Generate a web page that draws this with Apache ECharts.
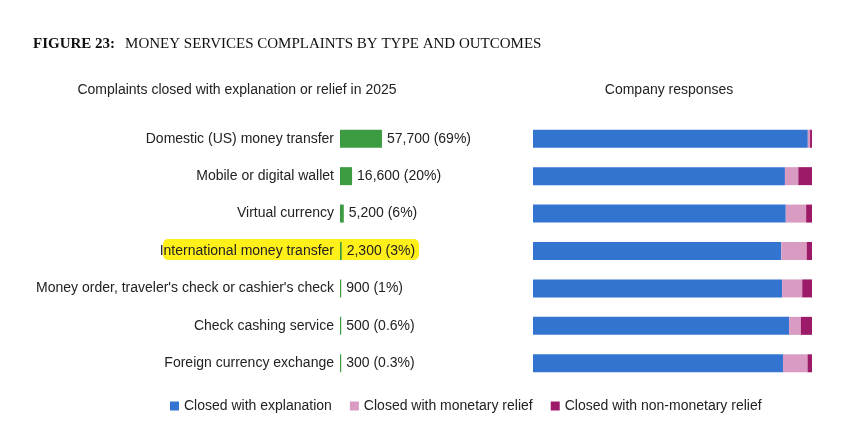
<!DOCTYPE html>
<html>
<head>
<meta charset="utf-8">
<script src="https://cdn.jsdelivr.net/npm/echarts@6/dist/echarts.min.js"></script>
<style>
  html, body { margin: 0; padding: 0; background: #fff; }
  #chart { width: 857px; height: 445px; }
</style>
</head>
<body>
<div id="chart"></div>
<script>
// complaint categories, top to bottom
const categories = [
  "Domestic (US) money transfer",
  "Mobile or digital wallet",
  "Virtual currency",
  "International money transfer",
  "Money order, traveler's check or cashier's check",
  "Check cashing service",
  "Foreign currency exchange"
];

// complaints closed with explanation or relief in 2025
const complaints = [57700, 16600, 5200, 2300, 900, 500, 300];
const shareLabels = ["69%", "20%", "6%", "3%", "1%", "0.6%", "0.3%"];

// company responses, percent of each category
const explanation = [98.5, 90.3, 90.6, 89.0, 89.3, 91.8, 89.6];
const monetary = [0.8, 4.8, 7.3, 9.1, 7.2, 4.2, 8.8];
const nonMonetary = [0.7, 4.9, 2.1, 1.9, 3.5, 4.0, 1.6];

const responseNames = [
  "Closed with explanation",
  "Closed with monetary relief",
  "Closed with non-monetary relief"
];
const responseColors = ["#3474d1", "#d99bc2", "#9c1a67"];

const FONT = "Liberation Sans, Arial, sans-serif";
const SERIF = "Liberation Serif, Times New Roman, serif";

const el = document.getElementById("chart");
const chart = echarts.init(el, null, { renderer: "canvas" });

const gridTop = 120;
const gridHeight = 262;

chart.setOption({
  animation: false,
  textStyle: { fontFamily: FONT },
  title: [
    {
      left: 33, top: 35, padding: 0,
      text: "{b|FIGURE 23:}  {n|MONEY SERVICES COMPLAINTS BY TYPE AND OUTCOMES}",
      textStyle: {
        fontWeight: "normal",
        rich: {
          b: { fontFamily: SERIF, fontWeight: "bold", fontSize: 15, color: "#111" },
          n: { fontFamily: SERIF, fontWeight: "normal", fontSize: 15, color: "#111" }
        }
      }
    },
    {
      left: 232, top: 78, textAlign: "center",
      text: "Complaints closed with explanation or relief in 2025",
      textStyle: { fontSize: 14, fontWeight: "normal", color: "#222", fontFamily: FONT }
    },
    {
      left: 664, top: 78, textAlign: "center",
      text: "Company responses",
      textStyle: { fontSize: 14, fontWeight: "normal", color: "#222", fontFamily: FONT }
    }
  ],
  // yellow marker highlight over one row
  graphic: [
    {
      type: "rect", z: -10, silent: true,
      shape: { x: 163, y: 239, width: 256, height: 21, r: 5 },
      style: { fill: "rgba(255,238,0,0.9)" }
    }
  ],
  legend: {
    bottom: 27, left: 165,
    itemWidth: 9, itemHeight: 9, itemGap: 18,
    icon: "rect",
    textStyle: { fontSize: 14, color: "#222", fontFamily: FONT },
    data: responseNames
  },
  grid: [
    { left: 340, top: gridTop, width: 160, height: gridHeight },
    { left: 533, top: gridTop, width: 279, height: gridHeight }
  ],
  xAxis: [
    { gridIndex: 0, type: "value", min: 0, max: 220000, show: false },
    { gridIndex: 1, type: "value", min: 0, max: 100, show: false }
  ],
  yAxis: [
    {
      gridIndex: 0, type: "category", data: categories, inverse: true, z: 5,
      axisLine: { show: false }, axisTick: { show: false }, splitLine: { show: false },
      axisLabel: { fontSize: 14, color: "#222", margin: 6, fontFamily: FONT }
    },
    {
      gridIndex: 1, type: "category", data: categories, inverse: true,
      axisLine: { show: false }, axisTick: { show: false }, axisLabel: { show: false }
    }
  ],
  series: [
    {
      type: "bar", xAxisIndex: 0, yAxisIndex: 0,
      data: complaints,
      barWidth: 18, barMinHeight: 1.2,
      itemStyle: { color: "#3d9c41" },
      label: {
        show: true, position: "right", distance: 5,
        fontSize: 14, color: "#222", fontFamily: FONT,
        formatter: (p) => p.value.toLocaleString("en-US") + " (" + shareLabels[p.dataIndex] + ")"
      }
    },
    ...[explanation, monetary, nonMonetary].map((vals, i) => ({
      name: responseNames[i],
      type: "bar", xAxisIndex: 1, yAxisIndex: 1,
      stack: "resp", barWidth: 18,
      itemStyle: { color: responseColors[i] },
      data: vals
    }))
  ]
});
</script>
</body>
</html>
